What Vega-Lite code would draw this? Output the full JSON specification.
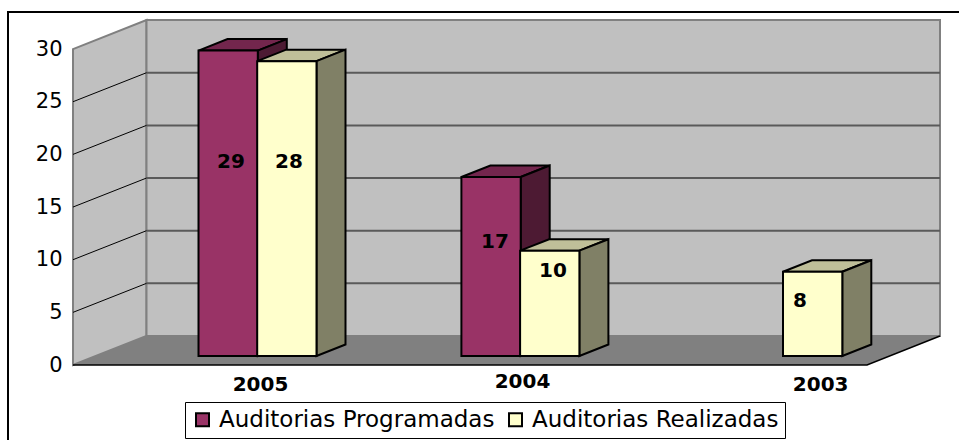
{
"$schema":"https://vega.github.io/schema/vega-lite/v6.json",
"width":965,"height":440,
"padding":{"left":8,"top":12,"right":0,"bottom":0},
"autosize":{"type":"none"},
"background":"#ffffff",
"config":{"view":{"stroke":"#000000","strokeWidth":2,"fill":"#ffffff"}},
"datasets":{
"bars":[
{"year":"2005","series":"Auditorias Programadas","value":29},
{"year":"2005","series":"Auditorias Realizadas","value":28},
{"year":"2004","series":"Auditorias Programadas","value":17},
{"year":"2004","series":"Auditorias Realizadas","value":10},
{"year":"2003","series":"Auditorias Realizadas","value":8}
],
"years":[{"year":"2005"},{"year":"2004"},{"year":"2003"}],
"ticks":[{"v":0},{"v":5},{"v":10},{"v":15},{"v":20},{"v":25},{"v":30}]
},
"encoding":{
"x":{"field":"px","type":"quantitative","scale":{"domain":[8,973],"nice":false,"zero":false},"axis":null},
"y":{"field":"vy","type":"quantitative","scale":{"domain":[-8.26,33.52],"nice":false,"zero":false},
"axis":{"values":[0,5,10,15,20,25,30],"offset":-54,"domain":false,"ticks":false,"grid":false,"title":null,"labelPadding":0,"labelFont":"DejaVu Sans","labelFontSize":21,"labelColor":"#000000"}}
},
"layer":[
{"data":{"name":"ticks"},
"transform":[{"filter":"datum.v==0"},{"calculate":"[0,1]","as":"k"},{"flatten":["k"]},
{"calculate":"73+73.5*datum.k","as":"px"},{"calculate":"30+2.754*datum.k","as":"vy"},{"calculate":"2.754*datum.k","as":"vy2"}],
"mark":{"type":"area","fill":"#C0C0C0","stroke":"#808080","strokeWidth":2},
"encoding":{"y2":{"field":"vy2"}}},
{"data":{"name":"ticks"},
"transform":[{"filter":"datum.v==0"},{"calculate":"146.5","as":"px"},{"calculate":"940","as":"px2"},{"calculate":"32.754","as":"vy"},{"calculate":"2.754","as":"vy2"}],
"mark":{"type":"rect","fill":"#C0C0C0","stroke":"#808080","strokeWidth":2},
"encoding":{"x2":{"field":"px2"},"y2":{"field":"vy2"}}},
{"data":{"name":"ticks"},
"transform":[{"filter":"datum.v==0"},{"calculate":"[0,1,2,3]","as":"k"},{"flatten":["k"]},
{"calculate":"[73,146.5,867,940][datum.k]","as":"px"},{"calculate":"[0,2.754,2.754,2.754][datum.k]","as":"vy"},{"calculate":"[0,0,0,2.754][datum.k]","as":"vy2"}],
"mark":{"type":"area","fill":"#808080"},
"encoding":{"y2":{"field":"vy2"}}},
{"data":{"name":"ticks"},
"transform":[{"filter":"datum.v>0&&datum.v<30"},{"calculate":"146.5","as":"px"},{"calculate":"940","as":"px2"},{"calculate":"datum.v+2.754","as":"vy"}],
"mark":{"type":"rule","stroke":"#5a5a5a","strokeWidth":2},
"encoding":{"x2":{"field":"px2"}}},
{"data":{"name":"ticks"},
"transform":[{"filter":"datum.v>0&&datum.v<30"},{"calculate":"[0,1]","as":"k"},{"flatten":["k"]},
{"calculate":"73+73.5*datum.k","as":"px"},{"calculate":"datum.v+2.754*datum.k","as":"vy"}],
"mark":{"type":"line","stroke":"#000000","strokeWidth":1},
"encoding":{"detail":{"field":"v"}}},
{"data":{"name":"ticks"},
"transform":[{"filter":"datum.v==0"},{"calculate":"[0,1,2]","as":"k"},{"flatten":["k"]},
{"calculate":"[73,867,940][datum.k]","as":"px"},{"calculate":"[0,0,2.754][datum.k]","as":"vy"}],
"mark":{"type":"line","stroke":"#000000","strokeWidth":1.5}},

{"data":{"name":"bars"},
"transform":[{"filter":"datum.series=='Auditorias Programadas'"},
{"calculate":"198.5+262.9*(datum.year=='2005'?0:datum.year=='2004'?1:2)","as":"xL"},
{"calculate":"datum.value+0.855","as":"T"},
{"calculate":"[0,1,2,3]","as":"k"},{"flatten":["k"]},
{"calculate":"datum.xL+[0,29,59.3,88.3][datum.k]","as":"px"},
{"calculate":"datum.T+[0,1.09,1.09,1.09][datum.k]","as":"vy"},
{"calculate":"datum.T+[0,0,0,1.09][datum.k]","as":"vy2"}],
"mark":{"type":"area","fill":"#73264D","stroke":"#000000","strokeWidth":2},
"encoding":{"y2":{"field":"vy2"},"detail":{"field":"year"}}},
{"data":{"name":"bars"},
"transform":[{"filter":"datum.series=='Auditorias Programadas'"},
{"calculate":"198.5+262.9*(datum.year=='2005'?0:datum.year=='2004'?1:2)+59.3","as":"xR"},
{"calculate":"[0,1]","as":"k"},{"flatten":["k"]},
{"calculate":"datum.xR+29*datum.k","as":"px"},
{"calculate":"datum.value+0.855+1.09*datum.k","as":"vy"},
{"calculate":"0.855+1.09*datum.k","as":"vy2"}],
"mark":{"type":"area","fill":"#4D1A33","stroke":"#000000","strokeWidth":2},
"encoding":{"y2":{"field":"vy2"},"detail":{"field":"year"}}},
{"data":{"name":"bars"},
"transform":[{"filter":"datum.series=='Auditorias Realizadas'"},
{"calculate":"198.5+262.9*(datum.year=='2005'?0:datum.year=='2004'?1:2)+58.7","as":"xL"},
{"calculate":"datum.value+0.855","as":"T"},
{"calculate":"[0,1,2,3]","as":"k"},{"flatten":["k"]},
{"calculate":"datum.xL+[0,29,59.3,88.3][datum.k]","as":"px"},
{"calculate":"datum.T+[0,1.09,1.09,1.09][datum.k]","as":"vy"},
{"calculate":"datum.T+[0,0,0,1.09][datum.k]","as":"vy2"}],
"mark":{"type":"area","fill":"#BFBF99","stroke":"#000000","strokeWidth":2},
"encoding":{"y2":{"field":"vy2"},"detail":{"field":"year"}}},
{"data":{"name":"bars"},
"transform":[{"filter":"datum.series=='Auditorias Realizadas'"},
{"calculate":"198.5+262.9*(datum.year=='2005'?0:datum.year=='2004'?1:2)+58.7+59.3","as":"xR"},
{"calculate":"[0,1]","as":"k"},{"flatten":["k"]},
{"calculate":"datum.xR+29*datum.k","as":"px"},
{"calculate":"datum.value+0.855+1.09*datum.k","as":"vy"},
{"calculate":"0.855+1.09*datum.k","as":"vy2"}],
"mark":{"type":"area","fill":"#808066","stroke":"#000000","strokeWidth":2},
"encoding":{"y2":{"field":"vy2"},"detail":{"field":"year"}}},
{"data":{"name":"bars"},
"transform":[
{"calculate":"198.5+262.9*(datum.year=='2005'?0:datum.year=='2004'?1:2)+(datum.series=='Auditorias Programadas'?0:58.7)","as":"px"},
{"calculate":"datum.px+59.3","as":"px2"},
{"calculate":"datum.value+0.855","as":"vy"},
{"calculate":"0.855","as":"vy2"}],
"mark":{"type":"rect","stroke":"#000000","strokeWidth":2},
"encoding":{"x2":{"field":"px2"},"y2":{"field":"vy2"},
"color":{"field":"series","type":"nominal",
"scale":{"domain":["Auditorias Programadas","Auditorias Realizadas"],"range":["#993366","#FFFFCC"]},
"legend":{"orient":"none","legendX":177,"legendY":390,"direction":"horizontal","columns":2,"title":null,"symbolType":"square","symbolSize":169,"symbolStrokeWidth":2,"symbolStrokeColor":"#000000","labelFont":"DejaVu Sans","labelFontSize":23,"labelColor":"#000000","labelLimit":400,"strokeColor":"#000000","fillColor":"#ffffff","padding":6,"columnPadding":9,"labelOffset":5}}}},
{"data":{"name":"bars"},
"transform":[
{"calculate":"datum.year=='2005'?(datum.series=='Auditorias Programadas'?231:289):datum.year=='2004'?(datum.series=='Auditorias Programadas'?495:553):800","as":"px"},
{"calculate":"datum.year=='2005'?19.28:datum.year=='2004'?(datum.series=='Auditorias Programadas'?11.68:8.93):6.08","as":"vy"}],
"mark":{"type":"text","font":"DejaVu Sans","fontWeight":"bold","fontSize":20,"fill":"#000000","align":"center","baseline":"middle"},
"encoding":{"text":{"field":"value","type":"quantitative"}}},
{"data":{"name":"years"},
"transform":[
{"calculate":"datum.year=='2005'?260.5:datum.year=='2004'?522.5:820.7","as":"px"},
{"calculate":"datum.year=='2005'?-1.9:datum.year=='2004'?-1.6:-1.9","as":"vy"}],
"mark":{"type":"text","font":"DejaVu Sans","fontWeight":"bold","fontSize":20,"fill":"#000000","align":"center","baseline":"middle"},
"encoding":{"text":{"field":"year","type":"nominal"}}}
]
}
